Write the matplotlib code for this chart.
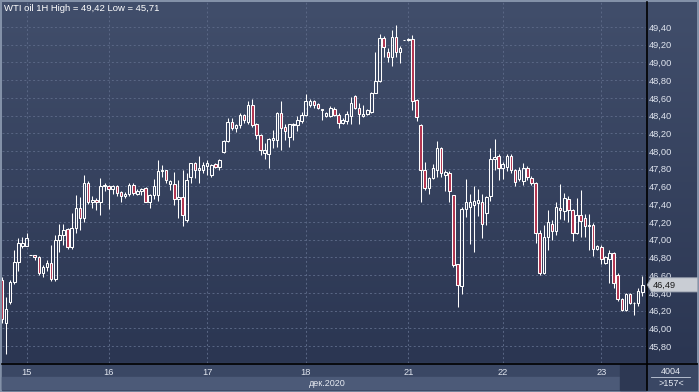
import numpy as np
import matplotlib
matplotlib.use("Agg")
import matplotlib.pyplot as plt
from matplotlib.colors import LinearSegmentedColormap
from matplotlib.patches import Rectangle, Polygon

# hourly WTI candles, 15-23 dec 2020
opens = [46.55, 46.06, 46.30, 46.52, 46.75, 46.93, 46.93, 46.83, 46.83, 46.80,
         46.62, 46.69, 46.74, 46.56, 47.00, 47.05, 47.12, 46.92, 47.13, 47.36,
         47.24, 47.64, 47.42, 47.45, 47.42, 47.60, 47.60, 47.57, 47.61, 47.54,
         47.49, 47.52, 47.62, 47.52, 47.55, 47.58, 47.43, 47.50, 47.50, 47.78,
         47.79, 47.63, 47.63, 47.46, 47.48, 47.22, 47.71, 47.86, 47.79, 47.79,
         47.83, 47.73, 47.85, 47.82, 47.99, 48.11, 48.33, 48.26, 48.29, 48.41,
         48.33, 48.52, 48.30, 48.18, 47.98, 47.97, 48.13, 48.13, 48.43, 48.27,
         48.16, 48.29, 48.29, 48.34, 48.41, 48.52, 48.57, 48.53, 48.46, 48.40,
         48.40, 48.48, 48.41, 48.32, 48.34, 48.39, 48.62, 48.49, 48.40, 48.42,
         48.44, 48.66, 48.79, 49.28, 49.12, 49.06, 49.29, 49.12, 49.25, 49.25,
         49.26, 48.58, 48.29, 47.79, 47.58, 47.70, 47.79, 48.03, 47.73, 47.75,
         47.50, 46.72, 46.48, 47.35, 47.37, 47.39, 47.41, 47.42, 47.30, 47.49,
         47.91, 47.94, 47.81, 47.82, 47.94, 47.79, 47.69, 47.66, 47.81, 47.70,
         47.64, 47.07, 46.62, 47.03, 47.18, 47.10, 47.36, 47.32, 47.46, 47.33,
         47.07, 47.28, 47.25, 47.15, 47.17, 46.90, 46.92, 46.74, 46.78, 46.85,
         46.60, 46.33, 46.21, 46.39, 46.28, 46.28, 46.41]
highs = [46.58, 46.35, 46.54, 46.88, 47.02, 47.03, 47.07, 46.83, 46.83, 46.81,
         46.71, 46.77, 46.94, 47.05, 47.18, 47.18, 47.13, 47.30, 47.50, 47.48,
         47.73, 47.66, 47.49, 47.47, 47.70, 47.64, 47.62, 47.62, 47.62, 47.55,
         47.54, 47.64, 47.64, 47.57, 47.58, 47.59, 47.52, 47.68, 47.90, 47.84,
         47.79, 47.67, 47.76, 47.67, 47.79, 47.75, 47.87, 47.88, 47.94, 47.88,
         47.90, 47.85, 47.86, 47.91, 48.12, 48.37, 48.37, 48.31, 48.43, 48.42,
         48.56, 48.59, 48.32, 48.19, 48.09, 48.15, 48.24, 48.44, 48.56, 48.30,
         48.31, 48.32, 48.39, 48.44, 48.64, 48.59, 48.58, 48.54, 48.48, 48.44,
         48.51, 48.50, 48.43, 48.37, 48.45, 48.61, 48.63, 48.54, 48.52, 48.48,
         48.67, 49.12, 49.32, 49.30, 49.16, 49.37, 49.42, 49.18, 49.25, 49.28,
         49.31, 48.59, 48.31, 47.88, 47.71, 47.85, 48.11, 48.04, 47.79, 47.77,
         47.50, 46.73, 47.37, 47.69, 47.52, 47.61, 47.57, 47.52, 47.49, 48.03,
         48.14, 47.97, 47.88, 47.97, 47.97, 47.80, 47.82, 47.86, 47.83, 47.72,
         47.65, 47.11, 47.17, 47.33, 47.22, 47.43, 47.63, 47.53, 47.49, 47.35,
         47.47, 47.56, 47.29, 47.29, 47.19, 46.94, 46.94, 46.81, 46.88, 46.86,
         46.62, 46.34, 46.40, 46.40, 46.30, 46.46, 46.59]
lows = [46.06, 45.71, 46.27, 46.50, 46.65, 46.91, 46.93, 46.83, 46.77, 46.60,
        46.58, 46.65, 46.53, 46.53, 46.86, 46.94, 46.90, 46.90, 47.08, 47.11,
        47.20, 47.40, 47.36, 47.33, 47.28, 47.55, 47.35, 47.52, 47.49, 47.42,
        47.47, 47.49, 47.50, 47.50, 47.50, 47.42, 47.36, 47.46, 47.44, 47.71,
        47.64, 47.56, 47.39, 47.24, 47.15, 47.20, 47.64, 47.70, 47.64, 47.75,
        47.73, 47.71, 47.81, 47.79, 47.98, 48.10, 48.24, 48.22, 48.26, 48.32,
        48.31, 48.27, 48.14, 47.96, 47.91, 47.81, 48.03, 48.05, 48.01, 48.12,
        48.05, 48.12, 48.23, 48.32, 48.40, 48.50, 48.49, 48.47, 48.35, 48.38,
        48.38, 48.40, 48.26, 48.30, 48.31, 48.31, 48.48, 48.31, 48.38, 48.41,
        48.43, 48.65, 48.78, 49.06, 49.01, 48.96, 49.06, 48.99, 49.25, 49.24,
        48.46, 48.34, 47.42, 47.56, 47.52, 47.68, 47.71, 47.71, 47.55, 47.43,
        46.69, 46.24, 46.39, 47.26, 46.95, 46.86, 47.27, 47.02, 47.17, 47.44,
        47.79, 47.67, 47.68, 47.78, 47.75, 47.60, 47.66, 47.62, 47.67, 47.62,
        46.96, 46.60, 46.61, 46.88, 47.00, 47.05, 47.23, 47.22, 47.20, 46.99,
        47.06, 47.03, 47.03, 46.88, 46.82, 46.88, 46.73, 46.73, 46.51, 46.45,
        46.31, 46.20, 46.20, 46.27, 46.15, 46.25, 46.36]
closes = [46.10, 46.22, 46.52, 46.75, 46.96, 46.96, 47.02, 46.83, 46.80, 46.62,
          46.69, 46.74, 46.56, 47.00, 47.05, 47.11, 46.92, 47.13, 47.36, 47.24,
          47.64, 47.42, 47.45, 47.42, 47.61, 47.62, 47.57, 47.60, 47.53, 47.49,
          47.51, 47.62, 47.53, 47.55, 47.57, 47.43, 47.50, 47.60, 47.78, 47.79,
          47.67, 47.66, 47.46, 47.48, 47.28, 47.67, 47.86, 47.79, 47.81, 47.84,
          47.87, 47.84, 47.82, 47.90, 48.11, 48.33, 48.26, 48.29, 48.41, 48.35,
          48.52, 48.29, 48.18, 48.01, 48.01, 48.14, 48.15, 48.43, 48.26, 48.23,
          48.30, 48.30, 48.35, 48.41, 48.56, 48.57, 48.52, 48.49, 48.47, 48.43,
          48.49, 48.41, 48.32, 48.35, 48.42, 48.54, 48.49, 48.42, 48.42, 48.46,
          48.66, 48.79, 49.28, 49.17, 49.06, 49.29, 49.12, 49.16, 49.25, 49.26,
          48.57, 48.38, 47.79, 47.58, 47.70, 47.81, 48.03, 47.75, 47.76, 47.55,
          46.71, 46.49, 47.35, 47.42, 47.42, 47.44, 47.45, 47.18, 47.48, 47.91,
          47.93, 47.81, 47.85, 47.94, 47.79, 47.65, 47.79, 47.81, 47.71, 47.64,
          47.07, 46.62, 47.03, 47.20, 47.10, 47.37, 47.33, 47.47, 47.33, 47.07,
          47.28, 47.21, 47.15, 47.17, 46.90, 46.93, 46.78, 46.80, 46.85, 46.51,
          46.33, 46.21, 46.39, 46.29, 46.29, 46.42, 46.49]

day_pos = [6, 26, 50, 74, 99, 122, 146]
day_labels = ["15", "16", "17", "18", "21", "22", "23"]
price_ticks = [45.8, 46.0, 46.2, 46.4, 46.6, 46.8, 47.0, 47.2, 47.4, 47.6,
               47.8, 48.0, 48.2, 48.4, 48.6, 48.8, 49.0, 49.2, 49.4]

W, H = 699, 392
plt.rcParams['font.family'] = ['Liberation Sans', 'DejaVu Sans']
fig = plt.figure(figsize=(W / 100, H / 100), dpi=100)
fig.patch.set_facecolor('#8391a8')


def px_axes(x0, y0, x1, y1):
    return fig.add_axes([x0 / W, 1 - y1 / H, (x1 - x0) / W, (y1 - y0) / H])


# background panels
bg = px_axes(0, 0, W, H)
bg.set_xlim(0, W)
bg.set_ylim(H, 0)
bg.axis('off')
grad = LinearSegmentedColormap.from_list('g', ['#414e6b', '#2b3652'])
bg.imshow(np.linspace(0, 1, 256).reshape(-1, 1), cmap=grad, aspect='auto',
          extent=(2, 697, 363, 2), zorder=0)
bg.add_patch(Rectangle((2, 363), 695, 27, color='#3a4764', zorder=1))
bg.add_patch(Rectangle((2, 377), 618, 12, color='#4c5a78', zorder=2))
bg.add_patch(Rectangle((620, 364), 26, 26, color='#2d3853', zorder=2))
bg.plot([2, 697], [363.5, 363.5], color='black', lw=1.2, zorder=3)
bg.plot([646.5, 646.5], [2, 390], color='black', lw=1.2, zorder=3)
bg.text(327, 383, "дек.2020", color='#e6eaf2', fontsize=6.5, ha='center', va='center')
bg.text(671, 371, "4004", color='#e6eaf2', fontsize=6.5, ha='center', va='center')
bg.plot([651, 690], [377, 377], color='#c8d0de', lw=0.6)
bg.text(671, 383.5, ">157<", color='#e6eaf2', fontsize=6.5, ha='center', va='center')
bg.text(4, 8, "WTI oil 1H High = 49,42 Low = 45,71", color='white',
        fontsize=6.8, ha='left', va='center')

# candles
ax = px_axes(2, 2, 646, 363)
ax.set_facecolor('none')
o = np.array(opens)
h = np.array(highs)
l = np.array(lows)
c = np.array(closes)
x = np.arange(len(o))
top = np.maximum(o, c)
bot = np.minimum(o, c)
up = c >= o
ax.vlines(x, top, h, color='white', lw=0.75, zorder=3)
ax.vlines(x, l, bot, color='white', lw=0.75, zorder=3)
ax.bar(x[up], (top - bot)[up], bottom=bot[up], width=0.62, color='none',
       edgecolor='white', lw=0.75, zorder=4)
ax.bar(x[~up], (top - bot)[~up], bottom=bot[~up], width=0.62, color='#b2344f',
       edgecolor='white', lw=0.75, zorder=4)

ax.set_xlim(0.02, 156.9)
ax.set_ylim(45.608, 49.682)
ax.set_xticks(day_pos)
ax.set_xticklabels(day_labels)
ax.set_yticks(price_ticks)
ax.set_yticklabels([f"{p:.2f}".replace('.', ',') for p in price_ticks])
ax.yaxis.tick_right()
ax.tick_params(axis='y', length=0, pad=2.2, labelsize=6.7, labelcolor='#dfe4ee')
ax.tick_params(axis='x', length=0, pad=3.6, labelsize=6.7, labelcolor='#dfe4ee')
ax.grid(True, color='#5a6785', lw=0.7, linestyle=(0, (2, 2.5)), zorder=1)
for s in ax.spines.values():
    s.set_visible(False)

# last price tag
last = closes[-1]
ax.add_patch(Polygon([(157.2, last), (158.2, last + 0.08), (169.5, last + 0.08),
                      (169.5, last - 0.08), (158.2, last - 0.08)],
                     closed=True, clip_on=False, facecolor='#c9cdd4',
                     edgecolor='#9aa2b0', lw=0.6, zorder=6))
ax.text(158.6, last, f"{last:.2f}".replace('.', ','), color='#1a1a1a',
        fontsize=6.7, ha='left', va='center', zorder=7, clip_on=False)

fig.savefig('out.png', dpi=100, facecolor=fig.get_facecolor())
